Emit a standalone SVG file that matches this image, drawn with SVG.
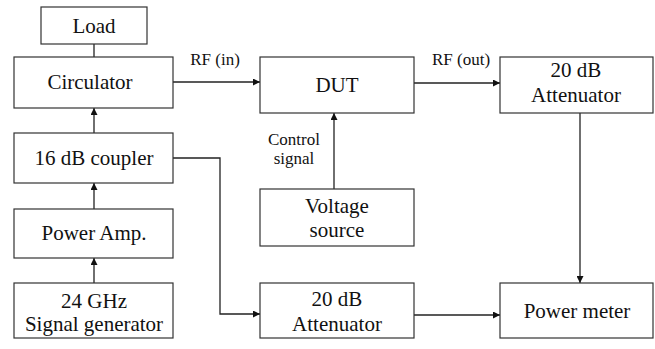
<svg xmlns="http://www.w3.org/2000/svg" width="655" height="349" viewBox="0 0 655 349">
<style>
.box{fill:#fff;stroke:#333;stroke-width:1.2}
text{font-family:'Liberation Serif',Tinos,'Nimbus Roman','Times New Roman',Times,'DejaVu Serif',FreeSerif,serif;fill:#111;text-anchor:middle}
.t{font-size:21px}
.l{font-size:17px}
.c{fill:none;stroke:#222;stroke-width:1.3}
</style>
<defs>
<marker id="ah" viewBox="0 0 10 10" refX="10" refY="5" markerWidth="8" markerHeight="7" markerUnits="userSpaceOnUse" orient="auto">
<path d="M0,0 L10,5 L0,10 z" fill="#111"/>
</marker>
</defs>
<g id="connectors">
<line class="c" x1="94" y1="44" x2="94" y2="57"/>
<line class="c" x1="94" y1="133" x2="94" y2="108" marker-end="url(#ah)"/>
<line class="c" x1="94" y1="209" x2="94" y2="183" marker-end="url(#ah)"/>
<line class="c" x1="94" y1="283" x2="94" y2="258" marker-end="url(#ah)"/>
<line class="c" x1="173" y1="82" x2="260" y2="82" marker-end="url(#ah)"/>
<line class="c" x1="414" y1="83" x2="500" y2="83" marker-end="url(#ah)"/>
<line class="c" x1="334" y1="189" x2="334" y2="113" marker-end="url(#ah)"/>
<line class="c" x1="580" y1="113" x2="580" y2="283" marker-end="url(#ah)"/>
<polyline class="c" points="173,158 220,158 220,314 260,314" marker-end="url(#ah)"/>
<line class="c" x1="414" y1="315" x2="500" y2="315" marker-end="url(#ah)"/>
<path d="M94,101 Q148,98 166,83" fill="none" stroke="#111" stroke-width="1.6" marker-end="url(#ah)"/>
<text class="l" x="215" y="65">RF (in)</text>
<text class="l" x="461" y="65">RF (out)</text>
<text class="l" x="294" y="145">Control</text>
<text class="l" x="294" y="164">signal</text>
</g>
<g id="load"><rect class="box" x="41" y="7" width="106" height="37"/><text class="t" x="94" y="33">Load</text></g>
<g id="circulator"><rect class="box" x="14" y="57" width="159" height="51"/><text class="t" x="90" y="89">Circulator</text></g>
<g id="coupler"><rect class="box" x="14" y="133" width="159" height="50"/><text class="t" x="94" y="165">16 dB coupler</text></g>
<g id="poweramp"><rect class="box" x="14" y="209" width="159" height="49"/><text class="t" x="94" y="240">Power Amp.</text></g>
<g id="siggen"><rect class="box" x="14" y="283" width="159" height="55"/><text class="t" x="94" y="308">24 GHz</text><text class="t" x="94" y="331">Signal generator</text></g>
<g id="dut"><rect class="box" x="260" y="57" width="154" height="56"/><text class="t" x="337" y="92">DUT</text></g>
<g id="att1"><rect class="box" x="500" y="57" width="153" height="56"/><text class="t" x="576" y="77">20 dB</text><text class="t" x="576" y="102">Attenuator</text></g>
<g id="voltage"><rect class="box" x="260" y="189" width="154" height="57"/><text class="t" x="337" y="213">Voltage</text><text class="t" x="337" y="237">source</text></g>
<g id="att2"><rect class="box" x="260" y="283" width="154" height="55"/><text class="t" x="337" y="306">20 dB</text><text class="t" x="337" y="331">Attenuator</text></g>
<g id="powermeter"><rect class="box" x="500" y="283" width="153" height="55"/><text class="t" x="577" y="318">Power meter</text></g>
</svg>
